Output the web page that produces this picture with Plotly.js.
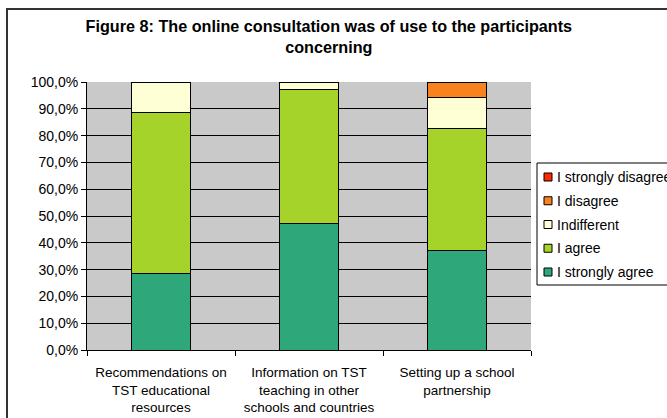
<!DOCTYPE html>
<html>
<head>
<meta charset="utf-8">
<script src="https://cdn.plot.ly/plotly-3.0.1.min.js"></script>
<style>
  html, body { margin: 0; padding: 0; background: #fff; }
  #wrap { position: relative; width: 667px; height: 418px; overflow: hidden; }
  #chart { width: 667px; height: 418px; }
  #frame { position: absolute; left: 6px; top: 8px; width: 720px; height: 480px;
           border: 2px solid #333; pointer-events: none; }
</style>
</head>
<body>
<div id="wrap">
  <div id="chart"></div>
  <div id="frame"></div>
</div>
<script>
const categories = [
  "Recommendations on<br>TST educational<br>resources",
  "Information on TST<br>teaching in other<br>schools and countries",
  "Setting up a school<br>partnership"
];
const stronglyAgree    = [28.6, 47.1, 37.1];
const agree            = [60.0, 50.0, 45.7];
const indifferent      = [11.4, 2.9, 11.4];
const disagree         = [0, 0, 5.7];
const stronglyDisagree = [0, 0, 0];

const seriesNames  = ["I strongly agree", "I agree", "Indifferent", "I disagree", "I strongly disagree"];
const seriesValues = [stronglyAgree, agree, indifferent, disagree, stronglyDisagree];
const seriesColors = ["#2EA77A", "#A6D32A", "#FFFFD6", "#F7821E", "#FF2A00"];

const FONT = "Liberation Sans, Arial, sans-serif";

// plot area geometry (px)
const W = 667, H = 418;
const M = { l: 87, r: 136, t: 82, b: 68 };
const PW = W - M.l - M.r, PH = H - M.t - M.b;
const px = x => (x - M.l) / PW;
const py = y => (H - M.b - y) / PH;

const traces = seriesNames.map((name, i) => ({
  type: "bar",
  name: name,
  x: categories,
  y: seriesValues[i],
  marker: { color: seriesColors[i], line: { color: "#000", width: 1 } },
  showlegend: false,
  hoverinfo: "name+y"
}));

// Legend drawn with shapes + annotations (Excel-style compact legend)
const shapes = [{
  type: "rect", xref: "paper", yref: "paper",
  x0: px(537), x1: px(730), y0: py(285), y1: py(163),
  fillcolor: "#fff", line: { color: "#000", width: 1 }, layer: "above"
}];
const annotations = [];
const order = [4, 3, 2, 1, 0];
order.forEach((si, k) => {
  const cy = 177 + k * 23.75;
  shapes.push({
    type: "rect", xref: "paper", yref: "paper",
    x0: px(544), x1: px(552), y0: py(cy + 4), y1: py(cy - 4),
    fillcolor: seriesColors[si], line: { color: "#000", width: 1 }, layer: "above"
  });
  annotations.push({
    xref: "paper", yref: "paper", x: px(557), y: py(cy),
    xanchor: "left", yanchor: "middle", showarrow: false,
    text: seriesNames[si], xshift: -2,
    font: { family: FONT, size: 14, color: "#000" }
  });
});

const layout = {
  width: W, height: H,
  margin: { l: M.l, r: M.r, t: M.t, b: M.b, autoexpand: false },
  paper_bgcolor: "#fff",
  plot_bgcolor: "#C9C9C9",
  separators: ", ",
  font: { family: FONT, size: 13, color: "#000" },
  barmode: "stack",
  bargap: 0.595,
  title: {
    text: "<b>Figure 8: The online consultation was of use to the participants<br>concerning</b>",
    font: { family: FONT, size: 16.2, color: "#000" },
    x: 0.493, xanchor: "center", yref: "container", y: 0.924, yanchor: "top"
  },
  xaxis: {
    type: "category",
    tickson: "boundaries",
    ticks: "outside", ticklen: 5, tickcolor: "#000",
    showline: true, linecolor: "#000", linewidth: 1,
    showgrid: false,
    ticklabelstandoff: 10,
    tickfont: { family: FONT, size: 13.5, color: "#000" },
    fixedrange: true
  },
  yaxis: {
    range: [0, 100], dtick: 10,
    tickformat: ".1f", ticksuffix: "%",
    ticks: "outside", ticklen: 5, tickcolor: "#000",
    showline: true, linecolor: "#000", linewidth: 1,
    showgrid: true, gridcolor: "#000", gridwidth: 1,
    zeroline: false,
    tickfont: { family: FONT, size: 14, color: "#000" },
    fixedrange: true
  },
  shapes: shapes,
  annotations: annotations,
  showlegend: false
};

Plotly.newPlot("chart", traces, layout, { displayModeBar: false, staticPlot: true });
</script>
</body>
</html>
